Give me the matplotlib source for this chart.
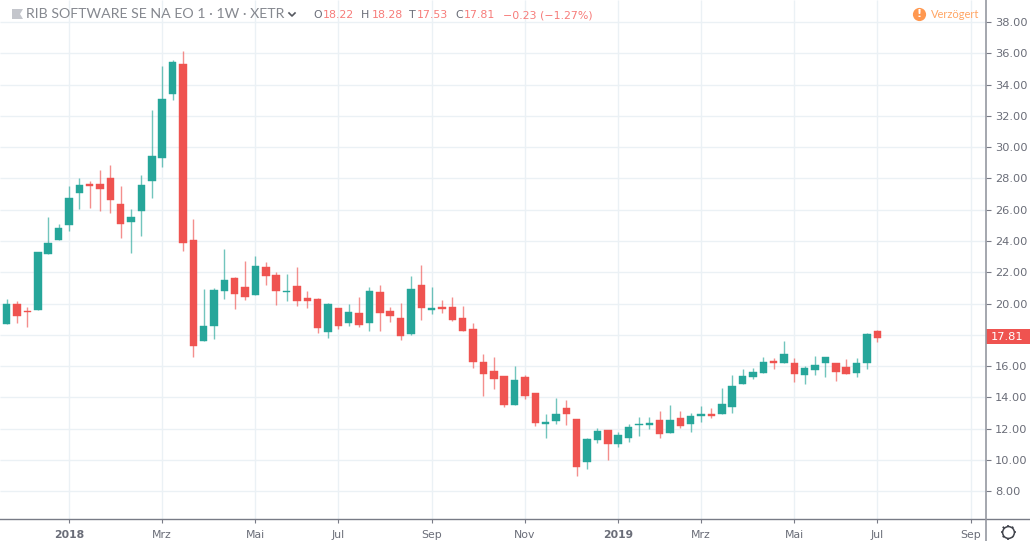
import matplotlib
matplotlib.use('Agg')
import numpy as np
import matplotlib.pyplot as plt
from matplotlib.lines import Line2D
from matplotlib.patches import Rectangle, Polygon

# weekly candles
opens = [18.69, 19.97, 19.52, 19.60, 23.17, 24.06, 25.04, 27.09, 27.64, 27.64, 28.03, 26.35, 25.20, 25.94, 27.83, 29.29, 33.42,
         35.33, 24.04, 17.62, 18.58, 20.78, 21.63, 21.04, 20.57, 22.34, 21.85, 20.72, 21.10, 20.35, 20.29, 18.16, 19.69,
         18.74, 19.38, 18.76, 20.76, 19.52, 19.06, 18.05, 21.19, 19.60, 19.76, 19.76, 19.06, 18.39, 16.24, 15.70, 15.38,
         13.53, 15.32, 14.26, 12.30, 12.51, 13.30, 12.64, 9.85, 11.27, 11.89, 11.02, 11.40, 12.22, 12.25, 12.55, 11.74,
         12.70, 12.30, 12.79, 12.94, 12.94, 13.37, 14.84, 15.31, 15.58, 16.32, 16.22, 16.20, 15.41, 15.77, 16.22, 16.20,
         15.92, 15.58, 16.22, 18.22]
highs = [20.29, 20.18, 19.80, 23.30, 25.55, 25.09, 27.54, 28.03, 27.83, 28.54, 28.86, 27.54, 26.03, 28.24, 32.37, 35.21, 35.57,
         36.15, 25.39, 20.93, 20.97, 23.50, 21.67, 22.72, 23.04, 22.66, 22.00, 21.89, 22.32, 20.82, 20.35, 20.01, 19.69,
         19.97, 20.44, 21.04, 21.19, 19.76, 20.01, 21.78, 22.45, 21.04, 20.23, 20.40, 19.86, 18.77, 16.75, 16.56, 15.38,
         15.99, 15.43, 14.26, 12.92, 13.94, 13.83, 12.64, 11.42, 12.02, 11.89, 11.79, 12.28, 12.74, 12.76, 13.13, 13.51,
         13.11, 13.02, 13.45, 13.34, 14.58, 15.41, 15.84, 15.88, 16.58, 16.54, 17.60, 16.54, 16.02, 16.64, 16.56, 16.20,
         16.47, 16.54, 18.14, 18.28]
lows = [18.69, 18.77, 18.52, 19.60, 23.17, 24.06, 24.66, 26.04, 26.09, 25.94, 25.77, 24.17, 23.21, 24.34, 26.77, 28.75, 33.03,
        23.36, 16.60, 17.62, 17.71, 20.29, 19.65, 20.23, 20.57, 21.21, 19.91, 20.18, 19.84, 19.69, 18.13, 17.78, 18.35,
        18.56, 18.52, 18.27, 18.27, 18.84, 17.67, 17.99, 18.95, 19.33, 19.42, 18.90, 18.27, 15.90, 14.11, 14.53, 13.40,
        13.53, 13.90, 12.19, 11.39, 12.30, 12.24, 8.98, 9.44, 11.07, 10.00, 10.85, 11.17, 11.55, 11.98, 11.39, 11.74,
        12.06, 11.77, 12.41, 12.70, 12.94, 13.02, 14.84, 15.18, 15.58, 15.81, 16.22, 15.00, 14.85, 15.45, 15.28, 15.07,
        15.51, 15.31, 15.84, 17.53]
closes = [19.97, 19.22, 19.44, 23.30, 23.87, 24.83, 26.77, 27.60, 27.50, 27.30, 26.60, 25.09, 25.55, 27.60, 29.43, 33.08, 35.43,
          23.85, 17.30, 18.56, 20.89, 21.48, 20.61, 20.40, 22.38, 21.74, 20.78, 20.82, 20.14, 20.14, 18.41, 19.97, 18.58,
          19.44, 18.63, 20.82, 19.42, 19.19, 17.95, 20.91, 19.72, 19.69, 19.65, 18.95, 18.27, 16.28, 15.47, 15.19, 13.53,
          15.11, 14.07, 12.36, 12.45, 12.92, 12.94, 9.57, 11.32, 11.83, 11.02, 11.57, 12.11, 12.32, 12.34, 11.66, 12.55,
          12.19, 12.81, 12.92, 12.81, 13.58, 14.75, 15.35, 15.61, 16.24, 16.20, 16.79, 15.47, 15.88, 16.05, 16.56, 15.62,
          15.51, 16.20, 18.07, 17.81]

price_ticks = [8, 10, 12, 14, 16, 18, 20, 22, 24, 26, 28, 30, 32, 34, 36, 38]
date_ticks = [6, 15, 24, 32, 41, 50, 59, 67, 76, 84, 93]
date_labels = ['2018', 'Mrz', 'Mai', 'Jul', 'Sep', 'Nov', '2019', 'Mrz', 'Mai', 'Jul', 'Sep']
last_price = 17.81

green = '#26a69a'
red = '#ef5350'
grey = '#6a6d78'
W, H = 1030, 541
step = 10.364
x0 = 6.7
py = 15.64

fig = plt.figure(figsize=(10.3, 5.41), dpi=100)
ax = fig.add_axes([0, (H - 519) / H, 985.5 / W, 519 / H])
ax.set_xlim(-x0 / step, (985.5 - x0) / step)
ax.set_ylim(38 - (519 - 22) / py, 38 + 22 / py)

ax.vlines(date_ticks, *ax.get_ylim(), color='#ebf1f5', lw=1, zorder=1)
ax.hlines(price_ticks, *ax.get_xlim(), color='#ebf1f5', lw=1, zorder=1)

for i in range(len(opens)):
    c = green if closes[i] >= opens[i] else red
    ax.vlines(i, lows[i], highs[i], color=c, lw=1, alpha=0.65, zorder=2)
    ax.add_patch(Rectangle((i - 0.36, min(opens[i], closes[i])), 0.72, abs(closes[i] - opens[i]),
                           fc=c, ec=c, lw=0.3, zorder=3))

for s in ax.spines.values():
    s.set_visible(False)
ax.yaxis.tick_right()
ax.set_yticks(price_ticks)
# the 18.00 label sits behind the last price tag
ax.set_yticklabels(['' if p == 18 else '%.2f' % p for p in price_ticks], fontsize=8.2, color=grey)
ax.set_xticks(date_ticks)
ax.set_xticklabels(date_labels, fontsize=7.8, color=grey)
for lab in ax.get_xticklabels():
    if lab.get_text() in ('2018', '2019'):
        lab.set_fontweight('bold')
ax.tick_params(axis='y', length=3.5, width=0.8, color='#787b86', pad=3.5)
ax.tick_params(axis='x', length=3, width=0.8, color='#787b86', pad=5)


def px(x, y):
    return x / W, 1 - y / H


# axis lines, they run past the plot
fig.add_artist(Line2D([0, 1], [1 - 519 / H] * 2, color='#787b86', lw=1))
fig.add_artist(Line2D([985.7 / W] * 2, [0, 1], color='#9598a1', lw=1.2))

# last price tag
fig.add_artist(Rectangle(px(986, 344), 44 / W, 15 / H, fc=red, ec='none', transform=fig.transFigure))
fig.text(*px(1007.5, 337), '%.2f' % last_price, color='white', fontsize=8.2, ha='center', va='center')

# header
fig.add_artist(Polygon([px(12, 9), px(23, 9), px(20, 14), px(23, 19), px(12, 19)], fc='#c4c6cc', ec='none',
                       transform=fig.transFigure))
fig.text(*px(26, 14.5), 'RIB SOFTWARE SE NA EO 1 \u00b7 1W \u00b7 XETR', color='#85888f', fontsize=10.2,
         family='Lato', va='center')
fig.add_artist(Line2D([px(289, 0)[0], px(292, 0)[0], px(295, 0)[0]], [px(0, 13)[1], px(0, 16)[1], px(0, 13)[1]],
                      color='#55585f', lw=1.2))
head = [(313, 'O', grey), (323, '18.22', '#f77c7a'), (361, 'H', grey), (372, '18.28', '#f77c7a'),
        (409, 'T', grey), (417, '17.53', '#f77c7a'), (455, 'C', grey), (464, '17.81', '#f77c7a'),
        (503, '\u22120.23 (\u22121.27%)', '#f77c7a')]
for hx, txt, col in head:
    fig.text(*px(hx, 15), txt, color=col, fontsize=7.9, va='center')

# delayed marker
fig.add_artist(Line2D([px(919, 0)[0]], [px(0, 14)[1]], marker='o', ms=9.5, mfc='#ff9850', mec='none'))
fig.text(*px(919, 14), '!', color='white', fontsize=8, fontweight='bold', ha='center', va='center')
fig.text(*px(931, 14), 'Verz\u00f6gert', color='#ffa564', fontsize=8, family='Lato', va='center')

# settings gear
gx, gy = 1008, 532
for a in np.arange(0, 360, 45):
    dx, dy = np.cos(np.radians(a)), np.sin(np.radians(a))
    fig.add_artist(Line2D([px(gx + 4 * dx, 0)[0], px(gx + 6.5 * dx, 0)[0]],
                          [px(0, gy + 4 * dy)[1], px(0, gy + 6.5 * dy)[1]], color='#40434b', lw=1.3))
fig.add_artist(Line2D([px(gx, gy)[0]], [px(gx, gy)[1]], marker='o', ms=8.5, mfc='white', mec='#40434b', mew=1.1))

fig.savefig('out.png', dpi=100)
